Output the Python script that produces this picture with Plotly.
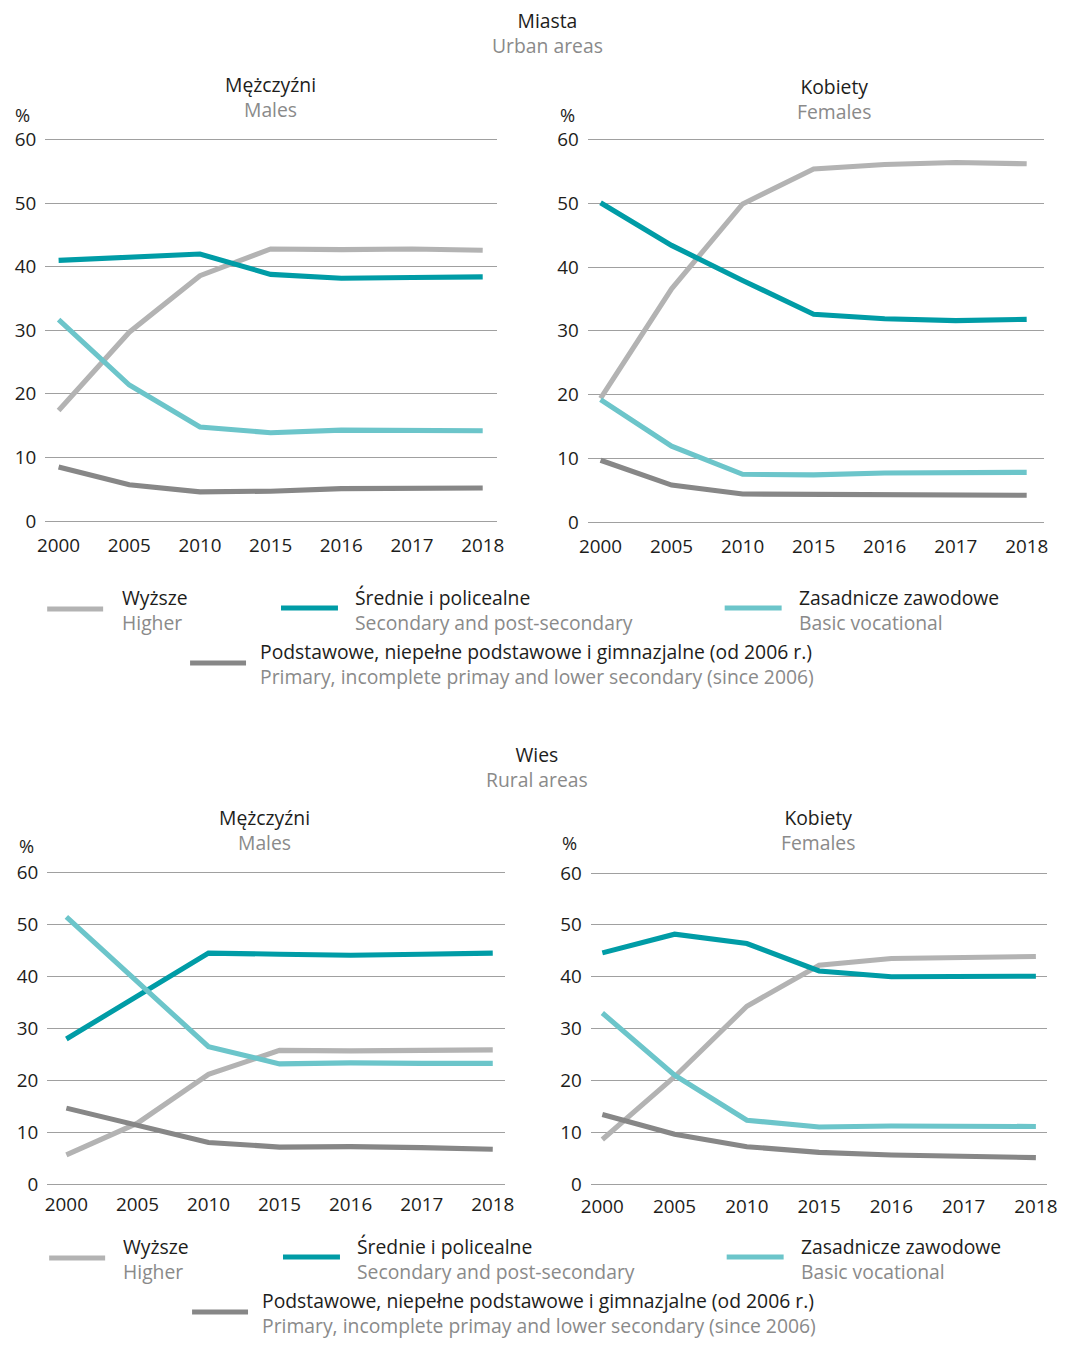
import plotly.graph_objects as go

# ---------------- DATA ----------------
years = ["2000", "2005", "2010", "2015", "2016", "2017", "2018"]
y_ticks = [0, 10, 20, 30, 40, 50, 60]

series_pl = ["Wyższe", "Średnie i policealne", "Zasadnicze zawodowe",
             "Podstawowe, niepełne podstawowe i gimnazjalne (od 2006 r.)"]
series_en = ["Higher", "Secondary and post-secondary", "Basic vocational",
             "Primary, incomplete primay and lower secondary (since 2006)"]

urban_m_higher = [17.4, 29.7, 38.6, 42.8, 42.7, 42.8, 42.6]
urban_m_secondary = [41.0, 41.4, 42.0, 38.8, 38.2, 38.3, 38.4]
urban_m_vocational = [31.7, 21.4, 14.8, 13.9, 14.3, 14.2, 14.2]
urban_m_primary = [8.5, 5.7, 4.6, 4.7, 5.1, 5.2, 5.2]

urban_f_higher = [19.4, 36.6, 49.9, 55.4, 56.1, 56.4, 56.2]
urban_f_secondary = [50.1, 43.4, 37.9, 32.6, 31.9, 31.6, 31.8]
urban_f_vocational = [19.2, 11.9, 7.5, 7.4, 7.7, 7.8, 7.8]
urban_f_primary = [9.7, 5.8, 4.4, 4.4, 4.4, 4.3, 4.2]

rural_m_higher = [5.6, 11.7, 21.1, 25.7, 25.6, 25.6, 25.8]
rural_m_secondary = [27.9, 36.2, 44.4, 44.2, 44.0, 44.2, 44.4]
rural_m_vocational = [51.4, 39.0, 26.4, 23.1, 23.3, 23.2, 23.2]
rural_m_primary = [14.6, 11.2, 8.0, 7.1, 7.2, 7.0, 6.7]

rural_f_higher = [8.6, 20.7, 34.3, 42.2, 43.5, 43.7, 43.9]
rural_f_secondary = [44.6, 48.2, 46.4, 41.1, 40.0, 40.0, 40.1]
rural_f_vocational = [33.0, 21.0, 12.3, 11.0, 11.2, 11.2, 11.1]
rural_f_primary = [13.4, 9.6, 7.2, 6.1, 5.6, 5.4, 5.1]

# ---------------- STYLE ----------------
W, H = 1069, 1348
# the captured picture is slightly reduced and offset relative to the page;
# positions below are given in picture pixels and converted here
SX, OX = 0.982, 9.8
SY, OY = 0.983, 11.9
FS = 1 / 0.982  # font compensation
FONT = "Open Sans"
BLACK = "#1d1d1b"
GREY_TXT = "#8a8a8a"
GRID = "#a0a0a0"
colors = ["#b3b3b3", "#009ca6", "#6cc5ca", "#878787"]
LW = 5.1
PAD = 0.3  # extra range so the top grid line (60) is drawn


def X(px):
    return ((px - OX) / SX) / W


def Y(py):
    return 1 - ((py - OY) / SY) / H


panels = [
    dict(data=[urban_m_higher, urban_m_secondary, urban_m_vocational, urban_m_primary],
         xdom=(45, 497), y0=521, y60=139.5, xr=(-0.19, 6.2),
         sub=("Mężczyźni", "Males"), subx=270, suby=96.5, pct=(22, 114), xlab_gap=10),
    dict(data=[urban_f_higher, urban_f_secondary, urban_f_vocational, urban_f_primary],
         xdom=(588, 1045), y0=522, y60=139.5, xr=(-0.18, 6.25),
         sub=("Kobiety", "Females"), subx=834, suby=98.5, pct=(568, 114), xlab_gap=10),
    dict(data=[rural_m_higher, rural_m_secondary, rural_m_vocational, rural_m_primary],
         xdom=(47, 505), y0=1184, y60=872, xr=(-0.27, 6.17),
         sub=("Mężczyźni", "Males"), subx=264, suby=830, pct=(26, 845), xlab_gap=7),
    dict(data=[rural_f_higher, rural_f_secondary, rural_f_vocational, rural_f_primary],
         xdom=(591, 1048), y0=1184, y60=873, xr=(-0.16, 6.16),
         sub=("Kobiety", "Females"), subx=818, suby=829.5, pct=(570, 842), xlab_gap=9),
]


def two_line(top, bottom):
    return f"{top}<br><span style='color:{GREY_TXT}'>{bottom}</span>"


fig = go.Figure()
layout = dict(
    width=W, height=H, margin=dict(l=0, r=0, t=0, b=0),
    paper_bgcolor="white", plot_bgcolor="white",
    font=dict(family=FONT, color=BLACK, size=18 * FS),
    showlegend=False,
)
annotations = []
shapes = []

for i, p in enumerate(panels):
    k = "" if i == 0 else str(i + 1)
    for s in range(4):
        fig.add_trace(go.Scatter(
            x=years, y=p["data"][s], mode="lines", name=series_pl[s],
            line=dict(color=colors[s], width=LW),
            xaxis="x" + k, yaxis="y" + k, cliponaxis=False, hoverinfo="x+y+name",
        ))
    ppu = (p["y0"] - p["y60"]) / 60.0
    ybot = p["y0"] + PAD * ppu
    ytop = p["y60"] - PAD * ppu
    layout["xaxis" + k] = dict(
        domain=[X(p["xdom"][0]), X(p["xdom"][1])], anchor="y" + k,
        type="category", range=list(p["xr"]), showgrid=False, zeroline=False,
        showline=False, ticks="", tickfont=dict(size=18.5 * FS, color=BLACK),
        ticklabelstandoff=p["xlab_gap"] - 1,
    )
    layout["yaxis" + k] = dict(
        domain=[Y(ybot), Y(ytop)], anchor="x" + k,
        range=[-PAD, 60 + PAD], tickvals=y_ticks, showgrid=True, gridcolor=GRID, gridwidth=1.2,
        zeroline=False, showline=False,
        ticks="", tickfont=dict(size=18.5 * FS, color=BLACK), ticklabelstandoff=8,
    )
    annotations.append(dict(x=X(p["subx"]), y=Y(p["suby"]), xref="paper", yref="paper",
                            text=two_line(*p["sub"]), showarrow=False, align="center",
                            xanchor="center", yanchor="middle", font=dict(size=19 * FS, color=BLACK)))
    annotations.append(dict(x=X(p["pct"][0]), y=Y(p["pct"][1]), xref="paper", yref="paper",
                            text="%", showarrow=False, xanchor="center", yanchor="middle",
                            font=dict(size=18 * FS, color=BLACK)))

# Section titles
for (cx, cy, t1, t2) in [(548, 32.5, "Miasta", "Urban areas"),
                         (537, 767, "Wies", "Rural areas")]:
    annotations.append(dict(x=X(cx), y=Y(cy), xref="paper", yref="paper", text=two_line(t1, t2),
                            showarrow=False, align="center", xanchor="center", yanchor="middle",
                            font=dict(size=19 * FS, color=BLACK)))

# Legends (custom, two-language)
legend_blocks = [
    # (swatch x0, x1, swatch y, text x, text centre y)
    [(47, 103, 609, 120, 610), (281, 338, 608, 353, 610), (725, 782, 608, 797, 610), (190, 246, 663, 258, 664)],
    # bottom legend nudged up slightly so that it stays inside the page
    [(49, 105, 1258, 121, 1259), (283, 340, 1257, 355, 1259), (727, 784, 1257, 799, 1259), (192, 248, 1312, 260, 1313)],
]
for block in legend_blocks:
    for s, (sx0, sx1, sy, tx, ty) in enumerate(block):
        shapes.append(dict(type="line", xref="paper", yref="paper",
                           x0=X(sx0), x1=X(sx1), y0=Y(sy), y1=Y(sy),
                           line=dict(color=colors[s], width=LW)))
        annotations.append(dict(x=X(tx), y=Y(ty), xref="paper", yref="paper",
                                text=two_line(series_pl[s], series_en[s]),
                                showarrow=False, align="left", xanchor="left", yanchor="middle",
                                font=dict(size=19 * FS, color=BLACK)))

layout["annotations"] = annotations
layout["shapes"] = shapes
fig.update_layout(**layout)
fig.write_html("out.html", config={"displayModeBar": False},
               post_script="document.body.style.margin='0';document.body.style.overflow='hidden';")
